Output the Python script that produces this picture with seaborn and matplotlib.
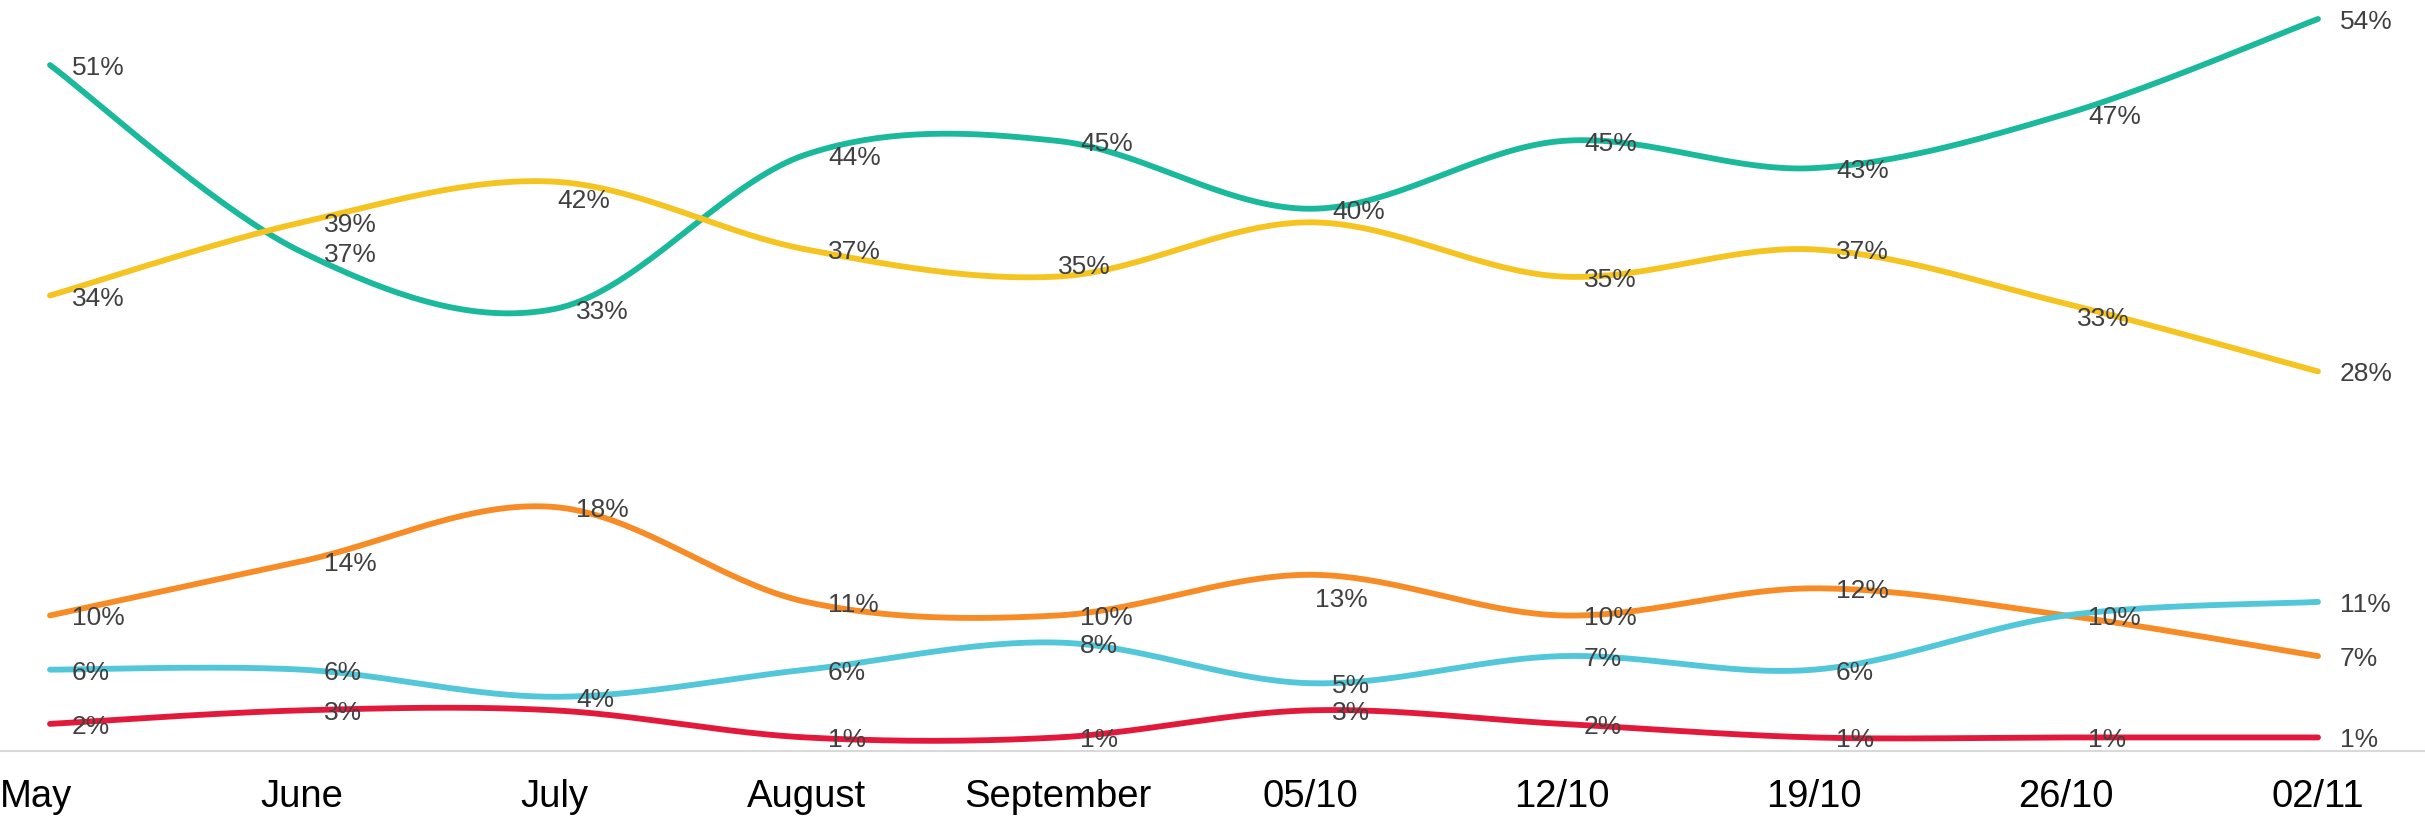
import numpy as np
import pandas as pd
import seaborn as sns
import matplotlib
matplotlib.use("Agg")
import matplotlib.pyplot as plt
from matplotlib.transforms import ScaledTranslation

# ---- data (labels show the rounded value) ----
categories = ['May', 'June', 'July', 'August', 'September',
              '05/10', '12/10', '19/10', '26/10', '02/11']

teal_vals = [50.6, 36.8, 32.6, 44.0, 45.0, 40.0, 45.0, 43.0, 47.0, 54.0]
yellow_vals = [33.6, 39.0, 42.0, 37.0, 35.0, 39.0, 35.0, 37.0, 33.0, 28.0]
orange_vals = [10, 14, 18, 11, 10, 13, 10, 12, 10, 7]
cyan_vals = [6, 6, 4, 6, 8, 5, 7, 6, 10, 11]
red_vals = [2, 3, 3, 1, 1, 3, 2, 1, 1, 1]

# ---- styling ----
series = [
    ('teal', teal_vals, '#1ab99c'),
    ('yellow', yellow_vals, '#f5c421'),
    ('orange', orange_vals, '#f78b25'),
    ('cyan', cyan_vals, '#52c7d9'),
    ('red', red_vals, '#e3193c'),
]

# labels Excel hid because they overlapped another one
hidden_labels = {('yellow', 5), ('red', 2), ('cyan', 8)}
# labels that were dragged away from the default "right" position (pixels)
label_offsets = {
    ('yellow', 2): (3, -19),
    ('yellow', 4): (0, 10),
    ('yellow', 8): (11, -15),
    ('orange', 5): (5, -25),
}
default_offset = (22, -3)


def smooth_curve(xs, ys, n=40):
    # Excel-style smoothed line: cubic Bezier segments with Catmull-Rom handles
    pts = np.column_stack([xs, ys]).astype(float)
    padded = np.vstack([pts[0], pts, pts[-1]])
    t = np.linspace(0, 1, n)[:, None]
    out = []
    for i in range(len(pts) - 1):
        p0, p1, p2, p3 = padded[i], padded[i + 1], padded[i + 2], padded[i + 3]
        c1 = p1 + (p2 - p0) / 6
        c2 = p2 - (p3 - p1) / 6
        seg = ((1 - t) ** 3) * p1 + 3 * ((1 - t) ** 2) * t * c1 \
            + 3 * (1 - t) * t ** 2 * c2 + t ** 3 * p2
        out.append(seg if i == 0 else seg[1:])
    out = np.vstack(out)
    return out[:, 0], out[:, 1]


sns.set_theme(style='white')
plt.rcParams['font.family'] = ['Liberation Sans', 'DejaVu Sans']

W, H, DPI = 2425, 818, 100
fig = plt.figure(figsize=(W / DPI, H / DPI), dpi=DPI)
ax = fig.add_axes([0, 1 - 751 / H, 1, 751 / H])

x_idx = np.arange(len(categories))
for z, (name, vals, color) in enumerate(series):
    sx, sy = smooth_curve(x_idx, vals)
    df = pd.DataFrame({'x': sx, 'y': sy})
    sns.lineplot(data=df, x='x', y='y', sort=False, estimator=None,
                 color=color, linewidth=4.2, ax=ax, zorder=2 + z,
                 solid_capstyle='round')

for name, vals, color in series:
    for i, v in enumerate(vals):
        if (name, i) in hidden_labels:
            continue
        dx, dy = label_offsets.get((name, i), default_offset)
        ax.annotate(f'{v:.0f}%', (i, v), xytext=(dx, dy),
                    textcoords='offset pixels', ha='left', va='center',
                    fontsize=19, color='#404040', zorder=10)

ax.set_xlim(-50 / 252, 9 + 107 / 252)
ax.set_ylim(0, 55.4)
ax.set_xticks(x_idx)
ax.set_xticklabels(categories, fontsize=27.5, color='black')
ax.set_yticks([])
ax.tick_params(axis='x', length=0, pad=20)
ax.set_xlabel('')
ax.set_ylabel('')
for side in ['top', 'left', 'right']:
    ax.spines[side].set_visible(False)
ax.spines['bottom'].set_color('#d9d9d9')
ax.spines['bottom'].set_linewidth(1.5)
ax.patch.set_alpha(0)

# Excel pushed the first category label inside the chart edge
first = ax.get_xticklabels()[0]
first.set_ha('left')
first.set_transform(first.get_transform() + ScaledTranslation(-50 / DPI, 0, fig.dpi_scale_trans))

fig.savefig('out.png', dpi=DPI, facecolor='white')
